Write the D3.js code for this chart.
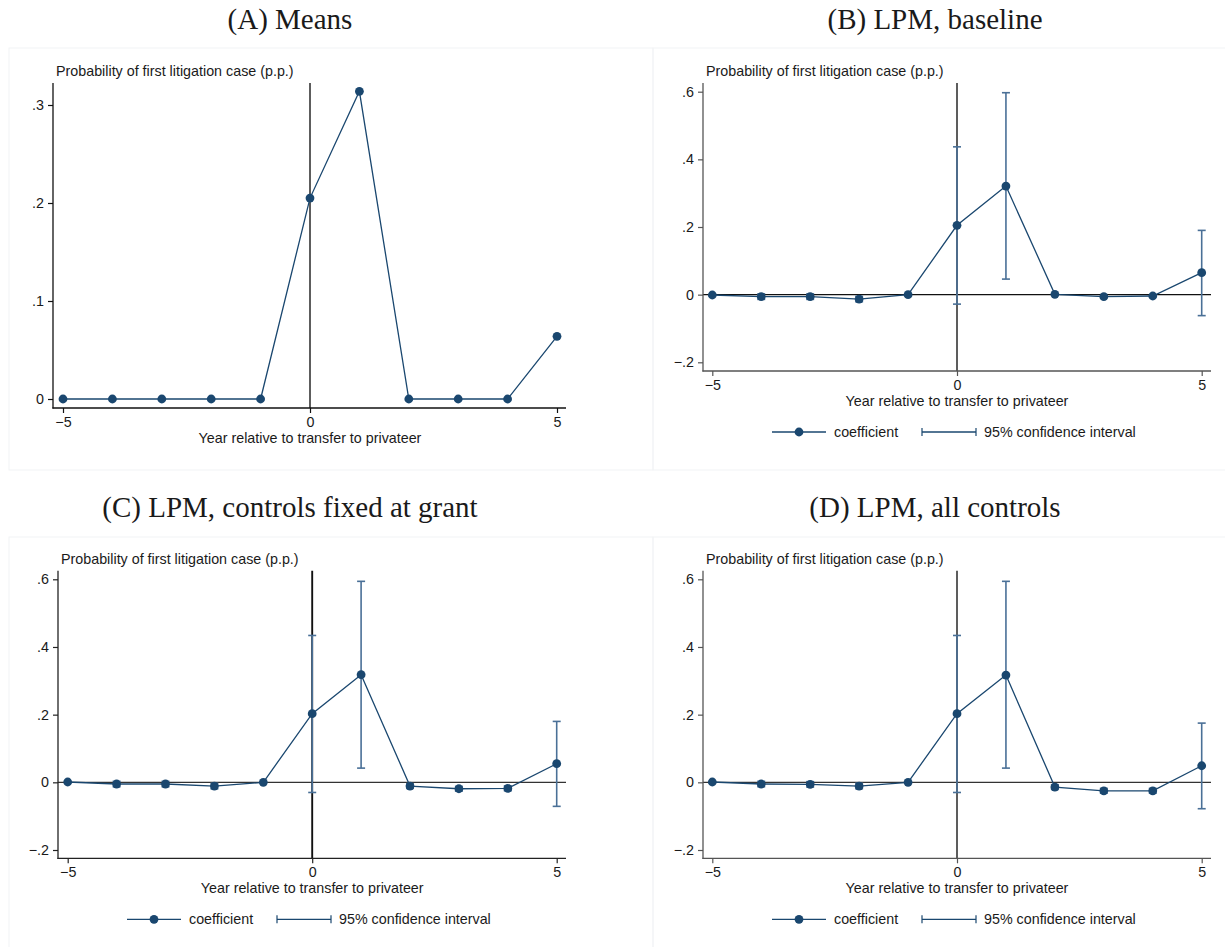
<!DOCTYPE html>
<html lang="en">
<head>
<meta charset="UTF-8">
<title>Probability of first litigation case</title>
<script src="https://cdnjs.cloudflare.com/ajax/libs/d3/7.8.5/d3.min.js"></script>
<style>
  body { margin:0; background:#fff; }
  svg text { font-family:"Liberation Sans", Arial, sans-serif; fill:#1a1a1a; }
  .panel-title { font-family:"Liberation Serif", "Times New Roman", serif; font-size:29px; }
</style>
</head>
<body>
<svg id="chart" width="1225" height="947"></svg>
<script>
  // ---- data ----
  var years = [-5, -4, -3, -2, -1, 0, 1, 2, 3, 4, 5];
  var xTicks = [-5, 0, 5];
  var yTicksMeans = [0, 0.1, 0.2, 0.3];
  var yTicksLPM = [-0.2, 0, 0.2, 0.4, 0.6];
  var titles = ["(A) Means", "(B) LPM, baseline", "(C) LPM, controls fixed at grant", "(D) LPM, all controls"];
  var yLabel = "Probability of first litigation case (p.p.)";
  var xLabel = "Year relative to transfer to privateer";
  var legendLabels = ["coefficient", "95% confidence interval"];

  // (A) means
  var meansA = [0, 0, 0, 0, 0, 0.205, 0.314, 0, 0, 0, 0.064];

  // (B) baseline
  var coefB = [-0.001, -0.006, -0.006, -0.013, 0, 0.205, 0.321, 0.001, -0.006, -0.004, 0.065];
  var loB   = [null, -0.014, -0.014, -0.021, null, -0.028, 0.046, null, null, null, -0.062];
  var hiB   = [null,  0.002,  0.002, -0.005, null,  0.437, 0.597, null, null, null,  0.190];

  // (C) controls fixed at grant
  var coefC = [0.001, -0.005, -0.005, -0.011, 0, 0.203, 0.318, -0.011, -0.019, -0.018, 0.055];
  var loC   = [null, -0.013, -0.013, -0.019, null, -0.030, 0.042, -0.018, -0.026, -0.025, -0.071];
  var hiC   = [null,  0.003,  0.003, -0.003, null,  0.434, 0.594, -0.004, -0.012, -0.011,  0.180];

  // (D) all controls
  var coefD = [0.001, -0.005, -0.006, -0.011, 0, 0.203, 0.317, -0.014, -0.025, -0.025, 0.049];
  var loD   = [null, -0.013, -0.014, -0.019, null, -0.030, 0.042, -0.021, -0.032, -0.032, -0.078];
  var hiD   = [null,  0.003,  0.002, -0.003, null,  0.434, 0.594, -0.007, -0.018, -0.018,  0.175];

  // ---- styling ----
  var navy = "#1a476f";
  var ciColor = "#4a7097";

  var svg = d3.select("#chart");

  function fmt(d) {
    if (d === 0) return "0";
    return d3.format(".1f")(d).replace("0.", ".");
  }

  var panels = [
    { title: titles[0], tx: 290, ty: 29, box: [9, 48, 653, 470],
      frame: { l: 53, r: 566, t: 83, b: 408 }, xRange: [63, 557],
      yDomain: [0, 0.3], yRange: [399, 105], yTicks: yTicksMeans,
      coef: meansA, lo: null, hi: null, vline: "#555", axisColor: "#111", zero: false, legend: false },
    { title: titles[1], tx: 935, ty: 29, box: [653, 48, 1240, 470],
      frame: { l: 703, r: 1211, t: 83, b: 371 }, xRange: [712.3, 1201.7],
      yDomain: [-0.2, 0.6], yRange: [362.3, 91.7], yTicks: yTicksLPM,
      coef: coefB, lo: loB, hi: hiB, vline: "#555", axisColor: "#555", zero: "#111", legend: true },
    { title: titles[2], tx: 290, ty: 517, box: [9, 537, 653, 960],
      frame: { l: 58, r: 566, t: 570.7, b: 858.3 }, xRange: [67.7, 556.7],
      yDomain: [-0.2, 0.6], yRange: [850, 579.3], yTicks: yTicksLPM,
      coef: coefC, lo: loC, hi: hiC, vline: "#111", axisColor: "#222", zero: "#333", legend: true },
    { title: titles[3], tx: 935, ty: 517, box: [653, 537, 1240, 960],
      frame: { l: 703, r: 1211, t: 570.7, b: 858.3 }, xRange: [712.3, 1201.7],
      yDomain: [-0.2, 0.6], yRange: [850, 579.3], yTicks: yTicksLPM,
      coef: coefD, lo: loD, hi: hiD, vline: "#555", axisColor: "#555", zero: "#333", legend: true }
  ];

  function drawPanel(p) {
    var g = svg.append("g");
    var f = p.frame;
    var x = d3.scaleLinear().domain([-5, 5]).range(p.xRange);
    var y = d3.scaleLinear().domain(p.yDomain).range(p.yRange);

    // faint graph region outline
    g.append("rect")
      .attr("x", p.box[0]).attr("y", p.box[1])
      .attr("width", p.box[2] - p.box[0]).attr("height", p.box[3] - p.box[1])
      .attr("fill", "none").attr("stroke", "#f1f3f5").attr("stroke-width", 1);

    g.append("text").attr("class", "panel-title")
      .attr("x", p.tx).attr("y", p.ty).attr("text-anchor", "middle")
      .text(p.title);

    // reference lines
    if (p.zero) {
      g.append("line")
        .attr("x1", f.l).attr("x2", f.r).attr("y1", y(0)).attr("y2", y(0))
        .attr("stroke", p.zero).attr("stroke-width", 1.3);
    }
    g.append("line")
      .attr("x1", x(0)).attr("x2", x(0)).attr("y1", f.t).attr("y2", f.b)
      .attr("stroke", p.vline).attr("stroke-width", 1.9);

    // axes
    var yAxis = d3.axisLeft(y).tickValues(p.yTicks).tickSize(5).tickPadding(4).tickFormat(fmt);
    var ya = g.append("g").attr("transform", "translate(" + f.l + ",0)").call(yAxis);
    ya.select(".domain").remove();
    ya.selectAll(".tick line").attr("stroke", p.axisColor).attr("stroke-width", 1.2);
    ya.selectAll("text").attr("font-size", 14.3).attr("font-family", null).attr("fill", "#1a1a1a");

    var xAxis = d3.axisBottom(x).tickValues(xTicks).tickSize(5).tickPadding(4).tickFormat(d3.format("d"));
    var xa = g.append("g").attr("transform", "translate(0," + f.b + ")").call(xAxis);
    xa.select(".domain").remove();
    xa.selectAll(".tick line").attr("stroke", p.axisColor).attr("stroke-width", 1.2);
    xa.selectAll("text").attr("font-size", 14.3).attr("font-family", null).attr("fill", "#1a1a1a");

    g.append("line").attr("x1", f.l).attr("x2", f.l).attr("y1", f.t).attr("y2", f.b + 0.6)
      .attr("stroke", p.axisColor).attr("stroke-width", 1.3);
    g.append("line").attr("x1", f.l - 0.6).attr("x2", f.r).attr("y1", f.b).attr("y2", f.b)
      .attr("stroke", p.axisColor).attr("stroke-width", 1.3);

    // axis titles
    g.append("text").attr("x", f.l + 3).attr("y", f.t - 7).attr("font-size", 14.3).text(yLabel);
    g.append("text").attr("x", x(0)).attr("y", f.b + 35).attr("text-anchor", "middle")
      .attr("font-size", 14.3).text(xLabel);

    var pts = years.map(function (yr, i) {
      return { yr: yr, v: p.coef[i], lo: p.lo ? p.lo[i] : null, hi: p.hi ? p.hi[i] : null };
    });

    // confidence intervals
    var ci = pts.filter(function (d) { return d.lo !== null && d.hi !== null; });
    var cig = g.append("g").attr("stroke", ciColor).attr("stroke-width", 1.6);
    cig.selectAll("line.ci").data(ci).join("line").attr("class", "ci")
      .attr("x1", function (d) { return x(d.yr); }).attr("x2", function (d) { return x(d.yr); })
      .attr("y1", function (d) { return y(d.lo); }).attr("y2", function (d) { return y(d.hi); });
    cig.selectAll("line.caplo").data(ci).join("line").attr("class", "caplo")
      .attr("x1", function (d) { return x(d.yr) - 4; }).attr("x2", function (d) { return x(d.yr) + 4; })
      .attr("y1", function (d) { return y(d.lo); }).attr("y2", function (d) { return y(d.lo); });
    cig.selectAll("line.caphi").data(ci).join("line").attr("class", "caphi")
      .attr("x1", function (d) { return x(d.yr) - 4; }).attr("x2", function (d) { return x(d.yr) + 4; })
      .attr("y1", function (d) { return y(d.hi); }).attr("y2", function (d) { return y(d.hi); });

    // coefficient line + markers
    var line = d3.line().x(function (d) { return x(d.yr); }).y(function (d) { return y(d.v); });
    g.append("path").datum(pts).attr("d", line)
      .attr("fill", "none").attr("stroke", navy).attr("stroke-width", 1.3);
    g.selectAll("circle.pt").data(pts).join("circle").attr("class", "pt")
      .attr("cx", function (d) { return x(d.yr); }).attr("cy", function (d) { return y(d.v); })
      .attr("r", 4.4).attr("fill", navy);

    // legend
    if (p.legend) {
      var ly = f.b + 61;
      var lg = g.append("g");
      lg.append("line").attr("x1", f.l + 69).attr("x2", f.l + 123).attr("y1", ly).attr("y2", ly)
        .attr("stroke", navy).attr("stroke-width", 1.3);
      lg.append("circle").attr("cx", f.l + 96).attr("cy", ly).attr("r", 4.4).attr("fill", navy);
      lg.append("text").attr("x", f.l + 131).attr("y", ly + 5).attr("font-size", 14.3).text(legendLabels[0]);
      lg.append("line").attr("x1", f.l + 219).attr("x2", f.l + 273).attr("y1", ly).attr("y2", ly)
        .attr("stroke", navy).attr("stroke-width", 1.3);
      [f.l + 219, f.l + 273].forEach(function (cx) {
        lg.append("line").attr("x1", cx).attr("x2", cx).attr("y1", ly - 4).attr("y2", ly + 4)
          .attr("stroke", navy).attr("stroke-width", 1.2);
      });
      lg.append("text").attr("x", f.l + 281).attr("y", ly + 5).attr("font-size", 14.3).text(legendLabels[1]);
    }
  }

  panels.forEach(drawPanel);
</script>
</body>
</html>
